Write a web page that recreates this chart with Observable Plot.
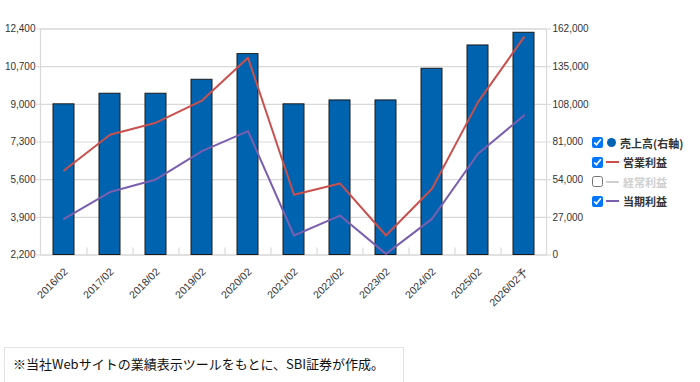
<!DOCTYPE html>
<html>
<head>
<meta charset="utf-8">
<script src="https://cdn.jsdelivr.net/npm/d3@7"></script>
<script src="https://cdn.jsdelivr.net/npm/@observablehq/plot@0.6"></script>
<style>
  html, body { margin: 0; padding: 0; background: #fff; }
  #wrap { position: relative; width: 700px; height: 382px; overflow: hidden; font-family: "Noto Sans CJK JP", "Noto Sans", sans-serif; }
  #legend { position: absolute; left: 592px; top: 133px; }
  .row { display: flex; align-items: center; height: 19.5px; font-size: 11px; font-weight: bold; color: #333; }
  .row input { margin: 0 3px 0 0; width: 11px; height: 11px; }
  .mk-dot { width: 9px; height: 9px; border-radius: 50%; background: #0063B0; margin: 0 4px 0 1px; }
  .mk-line { width: 13px; height: 2px; margin: 0 4px 0 0; }
  #caption { position: absolute; left: 4px; top: 347px; width: 400px; height: 40px; border: 1px solid #e3e3e3; box-sizing: border-box; font-size: 13px; color: #111; padding: 6px 0 0 8px; }
</style>
</head>
<body>
<div id="wrap">
  <div id="chart"></div>
  <div id="legend"></div>
  <div id="caption"></div>
</div>
<script>
const categories = ["2016/02","2017/02","2018/02","2019/02","2020/02","2021/02","2022/02","2023/02","2024/02","2025/02","2026/02予"];
const sales = [108000,115600,115600,125600,144000,108000,110800,110800,133500,150200,159300]; // 売上高 (右軸)
const operatingProfit = [6010,7630,8170,9170,11100,4920,5430,3080,5190,9100,12030]; // 営業利益
const netProfit = [3830,5040,5610,6890,7790,3080,3980,2250,3830,6770,8500]; // 当期利益
const leftTicks = [2200,3900,5600,7300,9000,10700,12400];
const rightTicks = [0,27000,54000,81000,108000,135000,162000];
const legendItems = [
  {label: "売上高(右軸)", checked: true, marker: "dot", color: "#0063B0", text: "#333"},
  {label: "営業利益", checked: true, marker: "line", color: "#C9504D", text: "#333"},
  {label: "経常利益", checked: false, marker: "line", color: "#cfcfcf", text: "#cfcfcf"},
  {label: "当期利益", checked: true, marker: "line", color: "#7A5FAE", text: "#333"}
];
const captionText = "※当社Webサイトの業績表示ツールをもとに、SBI証券が作成。";

const L0 = leftTicks[0], L1 = leftTicks[leftTicks.length - 1];
const R0 = rightTicks[0], R1 = rightTicks[rightTicks.length - 1];
const toLeft = v => L0 + (v - R0) * (L1 - L0) / (R1 - R0);
const toRight = v => R0 + (v - L0) * (R1 - R0) / (L1 - L0);

const data = categories.map((c, i) => ({cat: c, sales: sales[i], op: operatingProfit[i], net: netProfit[i]}));

const fontFamily = "'Liberation Sans', Arial, sans-serif";
const H = 345, MT = 28.5, MB = 90.5;
const innerH = H - MT - MB;
const tickLen = 7; // px length of the small category separators
const tickTop = L0 + (L1 - L0) * tickLen / innerH;

const chart = Plot.plot({
  width: 700,
  height: H,
  marginLeft: 40,
  marginRight: 154,
  marginTop: MT,
  marginBottom: MB,
  style: {fontFamily, fontSize: "10px", color: "#333", background: "transparent"},
  x: {domain: categories, paddingInner: 0.55, paddingOuter: 0.275},
  y: {domain: [L0, L1]},
  marks: [
    Plot.gridY(leftTicks, {stroke: "#d9d9d9", strokeOpacity: 1, strokeWidth: 1.2}),
    Plot.frame({stroke: "#d9d9d9", strokeWidth: 1.2}),
    Plot.ruleX(categories.slice(1), {x: d => d, dx: -23, y1: () => L0, y2: () => tickTop, stroke: "#d9d9d9", strokeWidth: 1.2}),
    Plot.barY(data, {x: "cat", y1: L0, y2: d => toLeft(d.sales), fill: "#0063B0", stroke: "#1b1b1b", strokeWidth: 1}),
    Plot.line(data, {x: "cat", y: "op", stroke: "#C9504D", strokeWidth: 2}),
    Plot.line(data, {x: "cat", y: "net", stroke: "#7A5FAE", strokeWidth: 2}),
    Plot.axisY(leftTicks, {anchor: "left", tickFormat: d3.format(","), tickSize: 4, tickPadding: 1, stroke: "#d9d9d9", fill: "#333", fontSize: 10}),
    Plot.axisY(leftTicks, {anchor: "right", tickFormat: d => d3.format(",")(Math.round(toRight(d))), tickSize: 4, tickPadding: 2, stroke: "#d9d9d9", fill: "#333", fontSize: 10}),
    Plot.axisX({anchor: "bottom", tickRotate: -45, tickSize: 0, tickPadding: 15, dx: 2, fill: "#333", fontSize: 10.5, label: null})
  ]
});
document.getElementById("chart").appendChild(chart);

const legend = document.getElementById("legend");
for (const it of legendItems) {
  const row = document.createElement("div");
  row.className = "row";
  const cb = document.createElement("input");
  cb.type = "checkbox";
  cb.checked = it.checked;
  row.appendChild(cb);
  const mk = document.createElement("span");
  mk.className = it.marker === "dot" ? "mk-dot" : "mk-line";
  mk.style.background = it.color;
  row.appendChild(mk);
  const t = document.createElement("span");
  t.textContent = it.label;
  t.style.color = it.text;
  row.appendChild(t);
  legend.appendChild(row);
}
document.getElementById("caption").textContent = captionText;
</script>
</body>
</html>
